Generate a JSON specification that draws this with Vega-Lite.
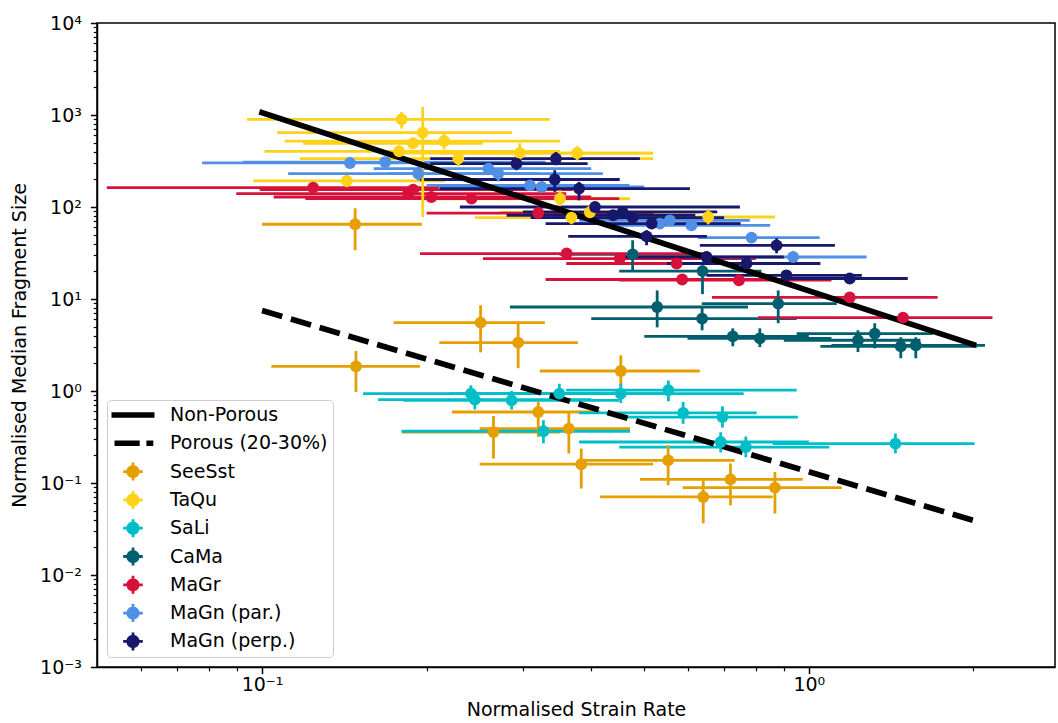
{
  "$schema": "https://vega.github.io/schema/vega-lite/v6.json",
  "autosize": "none",
  "width": 958,
  "height": 644,
  "padding": {"left": 97, "top": 23, "right": 3, "bottom": 56},
  "background": "white",
  "config": {
    "font": "DejaVu Sans",
    "view": {"stroke": "black", "strokeWidth": 1.5},
    "axis": {"grid": false, "domainColor": "black", "tickColor": "black", "labelColor": "black", "titleColor": "black", "labelFont": "DejaVu Sans", "titleFont": "DejaVu Sans", "labelFontSize": 19, "titleFontSize": 19, "titleFontWeight": "normal", "domainWidth": 1.5, "tickWidth": 1.5},
    "legend": {"orient": "bottom-left", "offset": 10, "padding": 5, "symbolOffset": 11, "labelOffset": 27, "rowPadding": 8.3, "symbolSize": 400, "symbolStrokeWidth": 0, "symbolOpacity": 1, "labelFontSize": 19, "labelFont": "DejaVu Sans", "labelColor": "black", "strokeColor": "#cccccc", "fillColor": "rgba(255,255,255,0.85)", "cornerRadius": 4}
  },
  "datasets": {
    "pts": [
      {"series": "SeeSst", "x": 0.148, "xlo": 0.1, "xhi": 0.196, "y": 64.9, "ylo": 33.9, "yhi": 96.8},
      {"series": "SeeSst", "x": 0.1485, "xlo": 0.104, "xhi": 0.1945, "y": 1.855, "ylo": 0.975, "yhi": 2.72},
      {"series": "SeeSst", "x": 0.251, "xlo": 0.174, "xhi": 0.329, "y": 5.54, "ylo": 2.63, "yhi": 8.54},
      {"series": "SeeSst", "x": 0.294, "xlo": 0.211, "xhi": 0.378, "y": 3.36, "ylo": 1.77, "yhi": 5.45},
      {"series": "SeeSst", "x": 0.453, "xlo": 0.322, "xhi": 0.632, "y": 1.65, "ylo": 1.15, "yhi": 2.44},
      {"series": "SeeSst", "x": 0.32, "xlo": 0.2225, "xhi": 0.415, "y": 0.591, "ylo": 0.316, "yhi": 0.759},
      {"series": "SeeSst", "x": 0.265, "xlo": 0.18, "xhi": 0.351, "y": 0.358, "ylo": 0.184, "yhi": 0.535},
      {"series": "SeeSst", "x": 0.364, "xlo": 0.25, "xhi": 0.471, "y": 0.39, "ylo": 0.209, "yhi": 0.591},
      {"series": "SeeSst", "x": 0.3835, "xlo": 0.25, "xhi": 0.519, "y": 0.16, "ylo": 0.087, "yhi": 0.2365},
      {"series": "SeeSst", "x": 0.553, "xlo": 0.386, "xhi": 0.732, "y": 0.1765, "ylo": 0.0944, "yhi": 0.257},
      {"series": "SeeSst", "x": 0.719, "xlo": 0.491, "xhi": 0.975, "y": 0.1096, "ylo": 0.0573, "yhi": 0.163},
      {"series": "SeeSst", "x": 0.641, "xlo": 0.415, "xhi": 0.859, "y": 0.0705, "ylo": 0.0365, "yhi": 0.107},
      {"series": "SeeSst", "x": 0.867, "xlo": 0.588, "xhi": 1.149, "y": 0.0891, "ylo": 0.0465, "yhi": 0.132},
      {"series": "TaQu", "x": 0.18, "xlo": 0.0939, "xhi": 0.336, "y": 898, "ylo": 711, "yhi": 1079},
      {"series": "TaQu", "x": 0.1967, "xlo": 0.1065, "xhi": 0.2864, "y": 644, "ylo": 77.8, "yhi": 1222},
      {"series": "TaQu", "x": 0.2153, "xlo": 0.11, "xhi": 0.351, "y": 521, "ylo": 424, "yhi": 632},
      {"series": "TaQu", "x": 0.178, "xlo": 0.101, "xhi": 0.351, "y": 403, "ylo": 347, "yhi": 469},
      {"series": "TaQu", "x": 0.1888, "xlo": 0.1189, "xhi": 0.2535, "y": 492, "ylo": 424, "yhi": 573},
      {"series": "TaQu", "x": 0.2285, "xlo": 0.1173, "xhi": 0.519, "y": 336, "ylo": 277, "yhi": 413},
      {"series": "TaQu", "x": 0.1429, "xlo": 0.0963, "xhi": 0.216, "y": 192, "ylo": 164, "yhi": 221},
      {"series": "TaQu", "x": 0.296, "xlo": 0.175, "xhi": 0.519, "y": 386, "ylo": 321, "yhi": 492},
      {"series": "TaQu", "x": 0.377, "xlo": 0.2115, "xhi": 0.519, "y": 386, "ylo": 321, "yhi": 457},
      {"series": "TaQu", "x": 0.3507, "xlo": 0.1945, "xhi": 0.471, "y": 123, "ylo": 102, "yhi": 152},
      {"series": "TaQu", "x": 0.368, "xlo": 0.245, "xhi": 0.552, "y": 76.7, "ylo": 64.9, "yhi": 89.8},
      {"series": "TaQu", "x": 0.6546, "xlo": 0.3404, "xhi": 0.867, "y": 77.9, "ylo": 64.9, "yhi": 94.4},
      {"series": "TaQu", "x": 0.3977, "xlo": 0.2722, "xhi": 0.632, "y": 87.6, "ylo": 74, "yhi": 104},
      {"series": "SaLi", "x": 0.241, "xlo": 0.153, "xhi": 0.42, "y": 0.937, "ylo": 0.773, "yhi": 1.153},
      {"series": "SaLi", "x": 0.245, "xlo": 0.163, "xhi": 0.4, "y": 0.806, "ylo": 0.63, "yhi": 1.0},
      {"series": "SaLi", "x": 0.286, "xlo": 0.181, "xhi": 0.45, "y": 0.792, "ylo": 0.63, "yhi": 1.0},
      {"series": "SaLi", "x": 0.3497, "xlo": 0.22, "xhi": 0.56, "y": 0.937, "ylo": 0.77, "yhi": 1.2},
      {"series": "SaLi", "x": 0.327, "xlo": 0.18, "xhi": 0.471, "y": 0.365, "ylo": 0.27, "yhi": 0.481},
      {"series": "SaLi", "x": 0.453, "xlo": 0.27, "xhi": 0.76, "y": 0.937, "ylo": 0.74, "yhi": 1.2},
      {"series": "SaLi", "x": 0.5536, "xlo": 0.36, "xhi": 0.95, "y": 1.02, "ylo": 0.773, "yhi": 1.3},
      {"series": "SaLi", "x": 0.589, "xlo": 0.38, "xhi": 0.803, "y": 0.577, "ylo": 0.44, "yhi": 0.76},
      {"series": "SaLi", "x": 0.695, "xlo": 0.45, "xhi": 0.955, "y": 0.521, "ylo": 0.4, "yhi": 0.68},
      {"series": "SaLi", "x": 0.69, "xlo": 0.38, "xhi": 1.0, "y": 0.279, "ylo": 0.215, "yhi": 0.356},
      {"series": "SaLi", "x": 0.767, "xlo": 0.45, "xhi": 1.09, "y": 0.246, "ylo": 0.19, "yhi": 0.32},
      {"series": "SaLi", "x": 1.44, "xlo": 0.859, "xhi": 2.01, "y": 0.268, "ylo": 0.21, "yhi": 0.345},
      {"series": "CaMa", "x": 0.4762, "xlo": 0.35, "xhi": 0.65, "y": 30.6, "ylo": 20.5, "yhi": 43.5},
      {"series": "CaMa", "x": 0.639, "xlo": 0.45, "xhi": 0.819, "y": 20.1, "ylo": 11.3, "yhi": 23.2},
      {"series": "CaMa", "x": 0.528, "xlo": 0.284, "xhi": 0.774, "y": 8.19, "ylo": 4.92, "yhi": 12.4},
      {"series": "CaMa", "x": 0.638, "xlo": 0.4, "xhi": 0.95, "y": 6.12, "ylo": 4.57, "yhi": 8.19},
      {"series": "CaMa", "x": 0.879, "xlo": 0.637, "xhi": 1.125, "y": 8.91, "ylo": 5.45, "yhi": 12.4},
      {"series": "CaMa", "x": 0.726, "xlo": 0.5, "xhi": 1.0, "y": 3.93, "ylo": 3.06, "yhi": 4.8},
      {"series": "CaMa", "x": 0.8136, "xlo": 0.6, "xhi": 1.1, "y": 3.74, "ylo": 3.0, "yhi": 4.8},
      {"series": "CaMa", "x": 1.23, "xlo": 0.9, "xhi": 1.6, "y": 3.56, "ylo": 2.65, "yhi": 4.57},
      {"series": "CaMa", "x": 1.32, "xlo": 0.95, "xhi": 1.685, "y": 4.2, "ylo": 2.91, "yhi": 5.45},
      {"series": "CaMa", "x": 1.473, "xlo": 1.05, "xhi": 2.03, "y": 3.06, "ylo": 2.27, "yhi": 3.84},
      {"series": "CaMa", "x": 1.569, "xlo": 1.1, "xhi": 2.1, "y": 3.14, "ylo": 2.27, "yhi": 3.84},
      {"series": "MaGr", "x": 0.124, "xlo": 0.052, "xhi": 0.26, "y": 162.5, "ylo": 145, "yhi": 180},
      {"series": "MaGr", "x": 0.185, "xlo": 0.0897, "xhi": 0.36, "y": 140, "ylo": 126, "yhi": 156},
      {"series": "MaGr", "x": 0.189, "xlo": 0.099, "xhi": 0.37, "y": 154.6, "ylo": 139, "yhi": 172},
      {"series": "MaGr", "x": 0.204, "xlo": 0.105, "xhi": 0.4, "y": 128.5, "ylo": 116, "yhi": 143},
      {"series": "MaGr", "x": 0.2416, "xlo": 0.12, "xhi": 0.45, "y": 123.4, "ylo": 111, "yhi": 137},
      {"series": "MaGr", "x": 0.32, "xlo": 0.2, "xhi": 0.52, "y": 86, "ylo": 77, "yhi": 96},
      {"series": "MaGr", "x": 0.3606, "xlo": 0.1945, "xhi": 0.66, "y": 31.2, "ylo": 28, "yhi": 35},
      {"series": "MaGr", "x": 0.451, "xlo": 0.2535, "xhi": 0.8, "y": 27.5, "ylo": 24.7, "yhi": 30.6},
      {"series": "MaGr", "x": 0.573, "xlo": 0.36, "xhi": 0.9, "y": 24.3, "ylo": 21.8, "yhi": 27},
      {"series": "MaGr", "x": 0.5866, "xlo": 0.33, "xhi": 1.074, "y": 16.3, "ylo": 14.6, "yhi": 18.2},
      {"series": "MaGr", "x": 0.745, "xlo": 0.45, "xhi": 1.1, "y": 16, "ylo": 14.3, "yhi": 17.8},
      {"series": "MaGr", "x": 1.188, "xlo": 0.665, "xhi": 1.72, "y": 10.4, "ylo": 9.3, "yhi": 11.6},
      {"series": "MaGr", "x": 1.487, "xlo": 0.807, "xhi": 2.167, "y": 6.28, "ylo": 5.6, "yhi": 7.0},
      {"series": "MaGn (par.)", "x": 0.1448, "xlo": 0.0777, "xhi": 0.3, "y": 301, "ylo": 270, "yhi": 335},
      {"series": "MaGn (par.)", "x": 0.168, "xlo": 0.0923, "xhi": 0.33, "y": 308, "ylo": 276, "yhi": 343},
      {"series": "MaGn (par.)", "x": 0.193, "xlo": 0.1116, "xhi": 0.32, "y": 231, "ylo": 195, "yhi": 275},
      {"series": "MaGn (par.)", "x": 0.2594, "xlo": 0.16, "xhi": 0.4, "y": 261, "ylo": 234, "yhi": 291},
      {"series": "MaGn (par.)", "x": 0.2704, "xlo": 0.17, "xhi": 0.42, "y": 231, "ylo": 190, "yhi": 255},
      {"series": "MaGn (par.)", "x": 0.309, "xlo": 0.2, "xhi": 0.47, "y": 172, "ylo": 154, "yhi": 192},
      {"series": "MaGn (par.)", "x": 0.3246, "xlo": 0.21, "xhi": 0.5, "y": 165, "ylo": 148, "yhi": 184},
      {"series": "MaGn (par.)", "x": 0.534, "xlo": 0.36, "xhi": 0.75, "y": 66, "ylo": 59, "yhi": 74},
      {"series": "MaGn (par.)", "x": 0.557, "xlo": 0.38, "xhi": 0.78, "y": 71.7, "ylo": 64, "yhi": 80},
      {"series": "MaGn (par.)", "x": 0.61, "xlo": 0.42, "xhi": 0.85, "y": 63.2, "ylo": 56.6, "yhi": 70.6},
      {"series": "MaGn (par.)", "x": 0.7857, "xlo": 0.627, "xhi": 1.047, "y": 46.5, "ylo": 41.6, "yhi": 52},
      {"series": "MaGn (par.)", "x": 0.936, "xlo": 0.632, "xhi": 1.275, "y": 28.6, "ylo": 25.6, "yhi": 32},
      {"series": "MaGn (perp.)", "x": 0.292, "xlo": 0.203, "xhi": 0.394, "y": 296, "ylo": 251, "yhi": 365},
      {"series": "MaGn (perp.)", "x": 0.3447, "xlo": 0.203, "xhi": 0.491, "y": 336, "ylo": 284, "yhi": 396},
      {"series": "MaGn (perp.)", "x": 0.343, "xlo": 0.1945, "xhi": 0.451, "y": 199, "ylo": 146, "yhi": 251},
      {"series": "MaGn (perp.)", "x": 0.38, "xlo": 0.2115, "xhi": 0.606, "y": 158.5, "ylo": 118, "yhi": 187.5},
      {"series": "MaGn (perp.)", "x": 0.4064, "xlo": 0.23, "xhi": 0.748, "y": 100, "ylo": 89, "yhi": 112},
      {"series": "MaGn (perp.)", "x": 0.4386, "xlo": 0.28, "xhi": 0.62, "y": 81.3, "ylo": 73, "yhi": 91},
      {"series": "MaGn (perp.)", "x": 0.4564, "xlo": 0.3, "xhi": 0.68, "y": 88.3, "ylo": 79, "yhi": 99},
      {"series": "MaGn (perp.)", "x": 0.4762, "xlo": 0.31, "xhi": 0.7, "y": 76.7, "ylo": 69, "yhi": 86},
      {"series": "MaGn (perp.)", "x": 0.516, "xlo": 0.33, "xhi": 0.75, "y": 66, "ylo": 59, "yhi": 74},
      {"series": "MaGn (perp.)", "x": 0.505, "xlo": 0.363, "xhi": 0.651, "y": 48, "ylo": 38.4, "yhi": 55.8},
      {"series": "MaGn (perp.)", "x": 0.65, "xlo": 0.45, "xhi": 0.9, "y": 28.6, "ylo": 25.6, "yhi": 32},
      {"series": "MaGn (perp.)", "x": 0.7694, "xlo": 0.55, "xhi": 1.05, "y": 24.3, "ylo": 21.8, "yhi": 27},
      {"series": "MaGn (perp.)", "x": 0.873, "xlo": 0.632, "xhi": 1.116, "y": 38.3, "ylo": 31.4, "yhi": 45.7},
      {"series": "MaGn (perp.)", "x": 0.91, "xlo": 0.65, "xhi": 1.25, "y": 18.1, "ylo": 16.2, "yhi": 20.2},
      {"series": "MaGn (perp.)", "x": 1.188, "xlo": 0.925, "xhi": 1.517, "y": 16.7, "ylo": 15, "yhi": 18.6}
    ]
  },
  "resolve": {"axis": {"x": "independent", "y": "independent"}},
  "layer": [
    {
      "data": {"name": "pts"},
      "mark": {"type": "rule", "strokeWidth": 2.8, "strokeCap": "butt"},
      "encoding": {
        "x": {"field": "xlo", "type": "quantitative", "scale": {"type": "log", "domain": [0.0499, 2.82], "nice": false},
          "axis": {"orient": "bottom", "values": [0.06, 0.07, 0.08, 0.09, 0.2, 0.3, 0.4, 0.5, 0.6, 0.7, 0.8, 0.9, 2], "labels": false, "domain": false, "tickSize": 3.8, "tickWidth": 1.2, "title": null}},
        "x2": {"field": "xhi"},
        "y": {"field": "y", "type": "quantitative", "scale": {"type": "log", "domain": [0.001, 10000], "nice": false},
          "axis": {"orient": "left", "values": [0.002, 0.003, 0.004, 0.005, 0.006, 0.007, 0.008, 0.009, 0.02, 0.03, 0.04, 0.05, 0.06, 0.07, 0.08, 0.09, 0.2, 0.3, 0.4, 0.5, 0.6, 0.7, 0.8, 0.9, 2, 3, 4, 5, 6, 7, 8, 9, 20, 30, 40, 50, 60, 70, 80, 90, 200, 300, 400, 500, 600, 700, 800, 900, 2000, 3000, 4000, 5000, 6000, 7000, 8000, 9000], "labels": false, "domain": false, "tickSize": 3.8, "tickWidth": 1.2, "title": null}},
        "stroke": {"field": "series", "type": "nominal", "legend": null,
          "scale": {"domain": ["SeeSst", "TaQu", "SaLi", "CaMa", "MaGr", "MaGn (par.)", "MaGn (perp.)"], "range": ["#E69F00", "#FFD21A", "#00BEC8", "#005F6E", "#D8103A", "#4F8FE6", "#17186B"]}}
      }
    },
    {
      "data": {"name": "pts"},
      "mark": {"type": "rule", "strokeWidth": 2.8, "strokeCap": "butt"},
      "encoding": {
        "x": {"field": "x", "type": "quantitative", "scale": {"type": "log", "domain": [0.0499, 2.82], "nice": false}, "axis": null},
        "y": {"field": "ylo", "type": "quantitative", "scale": {"type": "log", "domain": [0.001, 10000], "nice": false}, "axis": null},
        "y2": {"field": "yhi"},
        "stroke": {"field": "series", "type": "nominal", "legend": null}
      }
    },
    {
      "data": {"values": [{"x": 0.1, "y": 1060}, {"x": 2.0, "y": 3.2}]},
      "mark": {"type": "line", "color": "black", "strokeWidth": 5.7, "strokeCap": "square"},
      "encoding": {
        "x": {"field": "x", "type": "quantitative", "scale": {"type": "log", "domain": [0.0499, 2.82], "nice": false}, "axis": null},
        "y": {"field": "y", "type": "quantitative", "scale": {"type": "log", "domain": [0.001, 10000], "nice": false}, "axis": null}
      }
    },
    {
      "data": {"values": [{"x": 0.1, "y": 7.48}, {"x": 2.0, "y": 0.0393}]},
      "mark": {"type": "line", "color": "black", "strokeWidth": 5.7, "strokeCap": "butt", "strokeDash": [21, 9]},
      "encoding": {
        "x": {"field": "x", "type": "quantitative", "scale": {"type": "log", "domain": [0.0499, 2.82], "nice": false}, "axis": null},
        "y": {"field": "y", "type": "quantitative", "scale": {"type": "log", "domain": [0.001, 10000], "nice": false}, "axis": null}
      }
    },
    {
      "data": {"name": "pts"},
      "mark": {"type": "point", "filled": true, "shape": "circle", "size": 140, "opacity": 1, "strokeWidth": 0},
      "encoding": {
        "x": {"field": "x", "type": "quantitative", "scale": {"type": "log", "domain": [0.0499, 2.82], "nice": false},
          "axis": {"orient": "bottom", "values": [0.1, 1], "labelExpr": "datum.value < 0.5 ? '10⁻¹' : '10⁰'", "tickSize": 6.6, "labelPadding": 2, "title": "Normalised Strain Rate", "titlePadding": 6, "domain": true}},
        "y": {"field": "y", "type": "quantitative", "scale": {"type": "log", "domain": [0.001, 10000], "nice": false},
          "axis": {"orient": "left", "values": [0.001, 0.01, 0.1, 1, 10, 100, 1000, 10000], "labelExpr": "datum.value >= 9000 ? '10⁴' : datum.value >= 900 ? '10³' : datum.value >= 90 ? '10²' : datum.value >= 9 ? '10¹' : datum.value >= 0.9 ? '10⁰' : datum.value >= 0.09 ? '10⁻¹' : datum.value >= 0.009 ? '10⁻²' : '10⁻³'", "tickSize": 6.6, "labelPadding": 9, "title": "Normalised Median Fragment Size", "titlePadding": 10, "domain": true}},
        "color": {"field": "series", "type": "nominal", "title": null,
          "scale": {"domain": ["Non-Porous", "Porous (20-30%)", "SeeSst", "TaQu", "SaLi", "CaMa", "MaGr", "MaGn (par.)", "MaGn (perp.)"], "range": ["black", "black", "#E69F00", "#FFD21A", "#00BEC8", "#005F6E", "#D8103A", "#4F8FE6", "#17186B"]}}
      }
    },
    {
      "data": {"values": []},
      "mark": {"type": "point", "filled": true, "size": 400, "opacity": 1, "strokeWidth": 0},
      "encoding": {
        "color": {"field": "series", "type": "nominal", "title": null},
        "shape": {"field": "series", "type": "nominal", "title": null,
          "scale": {"domain": ["Non-Porous", "Porous (20-30%)", "SeeSst", "TaQu", "SaLi", "CaMa", "MaGr", "MaGn (par.)", "MaGn (perp.)"],
            "range": [
              "M-2.15,-0.28H2.15V0.28H-2.15Z",
              "M-1.85,-0.28H0.67V0.28H-1.85Z M1.34,-0.28H2.03V0.28H1.34Z",
              "M0.66,0A0.66,0.66 0 1,1 -0.66,0A0.66,0.66 0 1,1 0.66,0Z M-0.98,-0.14H-0.6V0.14H-0.98Z M0.6,-0.14H0.98V0.14H0.6Z M-0.14,-0.9H0.14V-0.6H-0.14Z M-0.14,0.6H0.14V0.9H-0.14Z",
              "M0.66,0A0.66,0.66 0 1,1 -0.66,0A0.66,0.66 0 1,1 0.66,0Z M-0.98,-0.14H-0.6V0.14H-0.98Z M0.6,-0.14H0.98V0.14H0.6Z M-0.14,-0.9H0.14V-0.6H-0.14Z M-0.14,0.6H0.14V0.9H-0.14Z",
              "M0.66,0A0.66,0.66 0 1,1 -0.66,0A0.66,0.66 0 1,1 0.66,0Z M-0.98,-0.14H-0.6V0.14H-0.98Z M0.6,-0.14H0.98V0.14H0.6Z M-0.14,-0.9H0.14V-0.6H-0.14Z M-0.14,0.6H0.14V0.9H-0.14Z",
              "M0.66,0A0.66,0.66 0 1,1 -0.66,0A0.66,0.66 0 1,1 0.66,0Z M-0.98,-0.14H-0.6V0.14H-0.98Z M0.6,-0.14H0.98V0.14H0.6Z M-0.14,-0.9H0.14V-0.6H-0.14Z M-0.14,0.6H0.14V0.9H-0.14Z",
              "M0.66,0A0.66,0.66 0 1,1 -0.66,0A0.66,0.66 0 1,1 0.66,0Z M-0.98,-0.14H-0.6V0.14H-0.98Z M0.6,-0.14H0.98V0.14H0.6Z M-0.14,-0.9H0.14V-0.6H-0.14Z M-0.14,0.6H0.14V0.9H-0.14Z",
              "M0.66,0A0.66,0.66 0 1,1 -0.66,0A0.66,0.66 0 1,1 0.66,0Z M-0.98,-0.14H-0.6V0.14H-0.98Z M0.6,-0.14H0.98V0.14H0.6Z M-0.14,-0.9H0.14V-0.6H-0.14Z M-0.14,0.6H0.14V0.9H-0.14Z",
              "M0.66,0A0.66,0.66 0 1,1 -0.66,0A0.66,0.66 0 1,1 0.66,0Z M-0.98,-0.14H-0.6V0.14H-0.98Z M0.6,-0.14H0.98V0.14H0.6Z M-0.14,-0.9H0.14V-0.6H-0.14Z M-0.14,0.6H0.14V0.9H-0.14Z"
            ]}}
      }
    }
  ]
}
